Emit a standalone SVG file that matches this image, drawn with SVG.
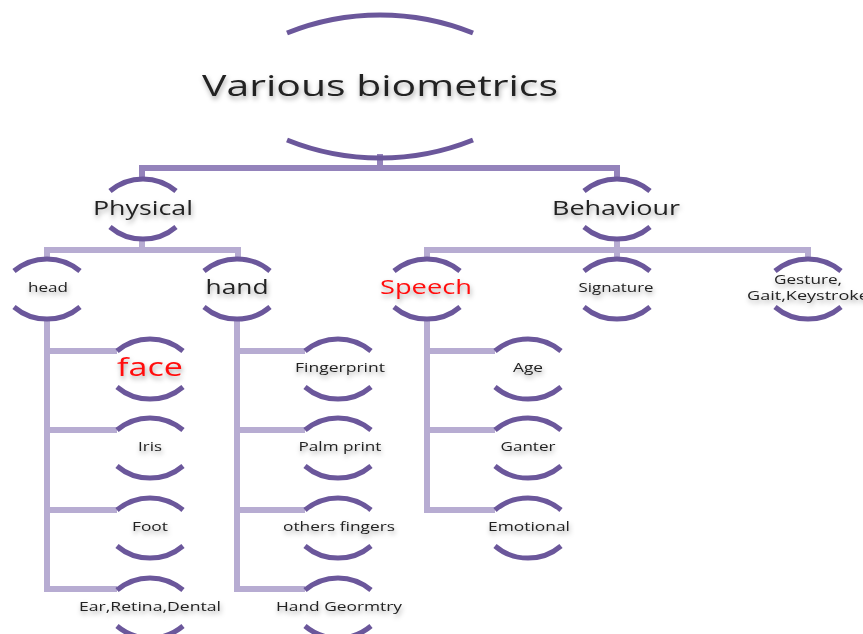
<svg xmlns="http://www.w3.org/2000/svg" width="863" height="634" viewBox="0 0 863 634">
<defs>
<filter id="sh" x="-20%" y="-40%" width="140%" height="200%">
<feDropShadow dx="1" dy="3" stdDeviation="2.5" flood-color="#000" flood-opacity="0.35"/>
</filter>
<path id="arcs" d="M-33 -17 A51 51 0 0 1 33 -17 M-33 19 A51 51 0 0 0 33 19"/>
</defs>
<style>
.arc{fill:none;stroke:#6b579b;stroke-width:5;stroke-linecap:butt}
.c1{fill:none;stroke:#9483bb;stroke-width:6}
.c2{fill:none;stroke:#b7acd2;stroke-width:6}
text{font-family:"Open Sans","DejaVu Sans",sans-serif;fill:#222;text-anchor:middle;filter:url(#sh)}
.s{font-size:12px}
.m{font-size:20px}
.red{fill:#ff1010}
</style>
<rect width="863" height="634" fill="#fff"/>
<g id="connectors">
<path class="c1" d="M380 154 V168"/>
<path class="c1" d="M142 181 V168 H617 V181"/>
<path class="c2" d="M142 238 V250"/>
<path class="c2" d="M47 259 V250 H238 V259"/>
<path class="c2" d="M617 238 V250"/>
<path class="c2" d="M427 259 V250 H808 V259 M617 250 V259"/>
<path class="c2" d="M47 317 V589 H117 M47 351 H117 M47 430 H117 M47 510 H117"/>
<path class="c2" d="M237 317 V589 H305 M237 351 H305 M237 430 H305 M237 510 H305"/>
<path class="c2" d="M427 317 V510 H495 M427 351 H495 M427 430 H495"/>
</g>
<g id="root">
<path class="arc" d="M287 33 A249 249 0 0 1 473 33 M287 140 A249 249 0 0 0 473 140"/>
<text x="380" y="96" font-size="30" textLength="356" lengthAdjust="spacingAndGlyphs">Various biometrics</text>
</g>
<g id="physical">
<use href="#arcs" class="arc" transform="translate(143,208)"/>
<text class="m" x="143" y="215" textLength="100" lengthAdjust="spacingAndGlyphs">Physical</text>
</g>
<g id="behaviour">
<use href="#arcs" class="arc" transform="translate(617,208)"/>
<text class="m" x="616" y="215" textLength="128" lengthAdjust="spacingAndGlyphs">Behaviour</text>
</g>
<g id="head">
<use href="#arcs" class="arc" transform="translate(47,288)"/>
<text class="s" x="48" y="292" textLength="40" lengthAdjust="spacingAndGlyphs">head</text>
</g>
<g id="hand">
<use href="#arcs" class="arc" transform="translate(237,288)"/>
<text class="m" x="237" y="294" textLength="63" lengthAdjust="spacingAndGlyphs">hand</text>
</g>
<g id="speech">
<use href="#arcs" class="arc" transform="translate(427,288)"/>
<text class="m red" x="426" y="294" textLength="92" lengthAdjust="spacingAndGlyphs">Speech</text>
</g>
<g id="signature">
<use href="#arcs" class="arc" transform="translate(617,288)"/>
<text class="s" x="616" y="292" textLength="75" lengthAdjust="spacingAndGlyphs">Signature</text>
</g>
<g id="gesture">
<use href="#arcs" class="arc" transform="translate(808,288)"/>
<text class="s" x="808" y="284" textLength="68" lengthAdjust="spacingAndGlyphs">Gesture,</text>
<text class="s" x="808" y="300" textLength="122" lengthAdjust="spacingAndGlyphs">Gait,Keystroke</text>
</g>
<g id="face">
<use href="#arcs" class="arc" transform="translate(150,368)"/>
<text x="150" y="376" font-size="25" class="red" textLength="66" lengthAdjust="spacingAndGlyphs">face</text>
</g>
<g id="iris">
<use href="#arcs" class="arc" transform="translate(150,447)"/>
<text class="s" x="150" y="451" textLength="24" lengthAdjust="spacingAndGlyphs">Iris</text>
</g>
<g id="foot">
<use href="#arcs" class="arc" transform="translate(150,527)"/>
<text class="s" x="150" y="531" textLength="36" lengthAdjust="spacingAndGlyphs">Foot</text>
</g>
<g id="ear">
<use href="#arcs" class="arc" transform="translate(150,607)"/>
<text class="s" x="150" y="611" textLength="142" lengthAdjust="spacingAndGlyphs">Ear,Retina,Dental</text>
</g>
<g id="fingerprint">
<use href="#arcs" class="arc" transform="translate(338,368)"/>
<text class="s" x="340" y="372" textLength="90" lengthAdjust="spacingAndGlyphs">Fingerprint</text>
</g>
<g id="palm">
<use href="#arcs" class="arc" transform="translate(338,447)"/>
<text class="s" x="340" y="451" textLength="83" lengthAdjust="spacingAndGlyphs">Palm print</text>
</g>
<g id="others">
<use href="#arcs" class="arc" transform="translate(338,527)"/>
<text class="s" x="339" y="531" textLength="112" lengthAdjust="spacingAndGlyphs">others fingers</text>
</g>
<g id="handgeo">
<use href="#arcs" class="arc" transform="translate(338,607)"/>
<text class="s" x="339" y="611" textLength="126" lengthAdjust="spacingAndGlyphs">Hand Geormtry</text>
</g>
<g id="age">
<use href="#arcs" class="arc" transform="translate(528,368)"/>
<text class="s" x="528" y="372" textLength="30" lengthAdjust="spacingAndGlyphs">Age</text>
</g>
<g id="ganter">
<use href="#arcs" class="arc" transform="translate(528,447)"/>
<text class="s" x="528" y="451" textLength="55" lengthAdjust="spacingAndGlyphs">Ganter</text>
</g>
<g id="emotional">
<use href="#arcs" class="arc" transform="translate(528,527)"/>
<text class="s" x="529" y="531" textLength="82" lengthAdjust="spacingAndGlyphs">Emotional</text>
</g>
</svg>
